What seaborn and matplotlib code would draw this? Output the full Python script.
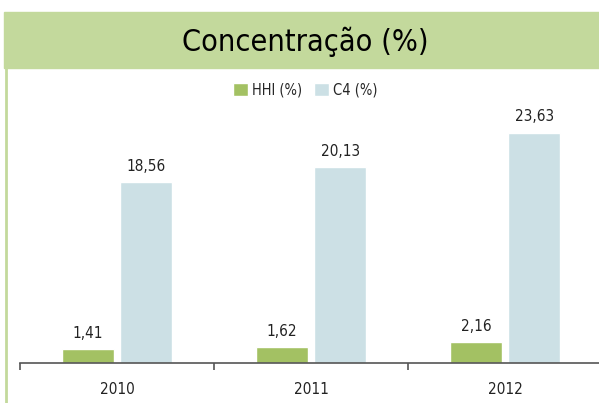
import matplotlib
matplotlib.use("Agg")
import matplotlib.pyplot as plt
import matplotlib.patches as mpatches
import matplotlib.lines as mlines
import seaborn as sns
import pandas as pd

# ---- dados ----
anos = ["2010", "2011", "2012"]
hhi = [1.41, 1.62, 2.16]
c4 = [18.56, 20.13, 23.63]
series = ["HHI (%)", "C4 (%)"]
titulo = "Concentração (%)"

cor_hhi = "#A3C163"
cor_c4 = "#CCE0E5"
cor_faixa = "#C3D99C"

df = pd.DataFrame({
    "ano": anos * 2,
    "valor": hhi + c4,
    "serie": [series[0]] * 3 + [series[1]] * 3,
})

sns.set_style("white")
plt.rcParams["font.family"] = ["DejaVu Sans"]
plt.rcParams["font.stretch"] = "condensed"

fig = plt.figure(figsize=(5.99, 4.03), dpi=100)

# faixa do título e borda esquerda
fig.patches.append(mpatches.Rectangle((4 / 599, 1 - 68 / 403), 1, 56 / 403,
                                      transform=fig.transFigure, color=cor_faixa, zorder=0))
fig.lines.append(mlines.Line2D([6 / 599, 6 / 599], [0, 1 - 68 / 403], transform=fig.transFigure,
                               color=cor_faixa, lw=2))
fig.text(0.51, 1 - 42 / 403, titulo, ha="center", va="center", fontsize=22,
         fontstretch="condensed", color="black")

ax = fig.add_axes([20 / 599, 1 - 363 / 403, 582 / 599, 263 / 403])
sns.barplot(data=df, x="ano", y="valor", hue="serie", palette=[cor_hhi, cor_c4],
            width=0.6, gap=0.1, ax=ax, legend=True, saturation=1)

for cont in ax.containers:
    ax.bar_label(cont, labels=[f"{v:.2f}".replace(".", ",") for v in cont.datavalues],
                 padding=6, fontsize=11, color="#222222")

ax.set_xlim(-0.5, 2.5)
ax.set_ylim(0, 27)
ax.set_xlabel("")
ax.set_ylabel("")
ax.set_yticks([])
for s in ["top", "right", "left"]:
    ax.spines[s].set_visible(False)
ax.spines["bottom"].set_color("#555555")
ax.spines["bottom"].set_linewidth(1.2)
ax.tick_params(axis="x", which="major", bottom=False, length=0, labelsize=11, pad=14,
               colors="#222222")
ax.set_xticks([-0.5, 0.5, 1.5, 2.5], minor=True)
ax.tick_params(axis="x", which="minor", bottom=True, length=5, width=1.2, color="#555555",
               direction="out")

leg = ax.legend(loc="center", bbox_to_anchor=(0.51, 1 - 90 / 403), bbox_transform=fig.transFigure,
                ncol=2, frameon=False, fontsize=10.5, handlelength=1.0, handleheight=1.0,
                handletextpad=0.3, columnspacing=0.8)

fig.savefig("out.png", dpi=100)
